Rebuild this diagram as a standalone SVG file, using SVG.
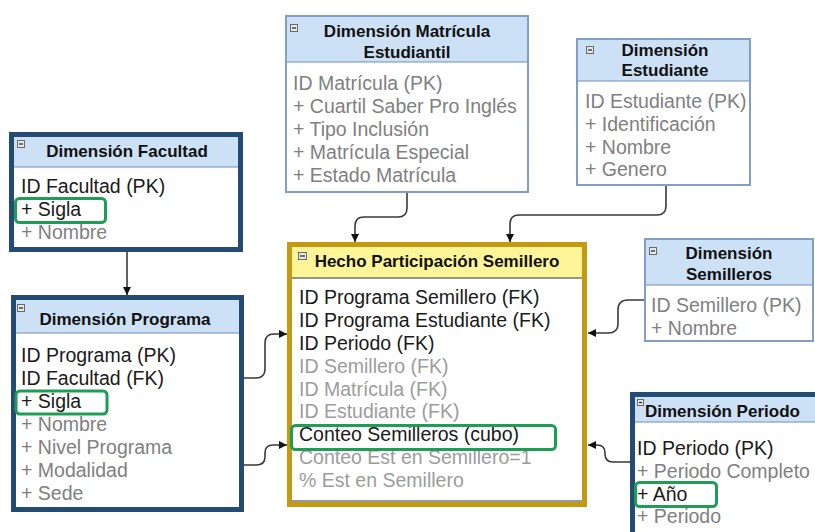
<svg xmlns="http://www.w3.org/2000/svg" width="815" height="532" viewBox="0 0 815 532">
<defs>
<style>
text{font-family:"Liberation Sans",Arial,sans-serif}
.t{font-size:17px;font-weight:bold;fill:#111}
.b{font-size:19.5px;fill:#1a1a1a}
.g{font-size:19.5px;fill:#808080}
.lg{font-size:19.5px;fill:#9c9c9c}
.dark{fill:#ffffff;stroke:#244b74;stroke-width:5}
.thin{fill:#ffffff;stroke:#7f9fca;stroke-width:2}
.hdr{fill:#cde1f6}
.sep{stroke:#6f8fb8;stroke-width:1.2}
.grn{fill:none;stroke:#1f9d55;stroke-width:3}
.ic{fill:#e6e6e6;stroke:#6a6a6a;stroke-width:1}
.icl{stroke:#222;stroke-width:1.2}
.con{fill:none;stroke:#3a3a3a;stroke-width:1.6}
</style>
<marker id="arr" viewBox="0 0 8 8" refX="8" refY="4" markerWidth="8" markerHeight="8" markerUnits="userSpaceOnUse" orient="auto">
<path d="M0,0 L8,4 L0,8 z" fill="#111"/>
</marker>
</defs>
<rect width="815" height="532" fill="#ffffff"/>

<g id="connectors">
<path class="con" d="M127,252 V295" marker-end="url(#arr)"/>
<path class="con" d="M244,378 H256 Q265,378 265,369 V343 Q265,334 274,334 H287" marker-end="url(#arr)"/>
<path class="con" d="M244,465 H256 Q265,465 265,457 V453 Q265,445 273,445 H287" marker-end="url(#arr)"/>
<path class="con" d="M407,193 V208 Q407,217 398,217 H364 Q355,217 355,226 V242" marker-end="url(#arr)"/>
<path class="con" d="M666,186 V206 Q666,215 657,215 H519 Q510,215 510,224 V242" marker-end="url(#arr)"/>
<path class="con" d="M644,300 H628 Q618,300 618,310 V324 Q618,333 608,333 H588" marker-end="url(#arr)"/>
<path class="con" d="M630,462 H613 Q605,462 605,454 V453 Q605,445 597,445 H588" marker-end="url(#arr)"/>
</g>

<g id="dim-facultad">
<rect class="dark" x="11.5" y="134.5" width="229" height="115"/>
<rect class="hdr" x="14" y="137" width="224" height="30"/>
<line class="sep" x1="14" y1="167" x2="238" y2="167"/>
<rect class="ic" x="17.5" y="140.5" width="7" height="7"/><line class="icl" x1="19" y1="144" x2="23" y2="144"/>
<text class="t" x="127" y="157" text-anchor="middle">Dimensión Facultad</text>
<text class="b" x="21" y="193">ID Facultad (PK)</text>
<text class="b" x="21" y="216">+ Sigla</text>
<text class="g" x="21" y="239">+ Nombre</text>
<rect class="grn" x="15.5" y="198.5" width="90" height="24" rx="4"/>
</g>

<g id="dim-programa">
<rect class="dark" x="13.5" y="297.5" width="228" height="212"/>
<rect class="hdr" x="16" y="300" width="223" height="33"/>
<line class="sep" x1="16" y1="333" x2="239" y2="333"/>
<rect class="ic" x="17.5" y="304.5" width="7" height="7"/><line class="icl" x1="19" y1="308" x2="23" y2="308"/>
<text class="t" x="125" y="325" text-anchor="middle">Dimensión Programa</text>
<text class="b" x="21" y="362">ID Programa (PK)</text>
<text class="b" x="21" y="385">ID Facultad (FK)</text>
<text class="b" x="21" y="408">+ Sigla</text>
<text class="g" x="21" y="431">+ Nombre</text>
<text class="g" x="21" y="454">+ Nivel Programa</text>
<text class="g" x="21" y="477">+ Modalidad</text>
<text class="g" x="21" y="500">+ Sede</text>
<rect class="grn" x="16" y="391" width="91" height="23" rx="4"/>
</g>

<g id="dim-matricula">
<rect class="thin" x="286" y="16" width="242" height="176"/>
<rect class="hdr" x="287" y="17" width="240" height="45"/>
<line class="sep" x1="287" y1="62" x2="527" y2="62"/>
<rect class="ic" x="290.5" y="24.5" width="7" height="7"/><line class="icl" x1="292" y1="28" x2="296" y2="28"/>
<text class="t" x="407" y="37" text-anchor="middle">Dimensión Matrícula</text>
<text class="t" x="407" y="58" text-anchor="middle">Estudiantil</text>
<text class="g" x="293" y="90">ID Matrícula (PK)</text>
<text class="g" x="293" y="113">+ Cuartil Saber Pro Inglés</text>
<text class="g" x="293" y="136">+ Tipo Inclusión</text>
<text class="g" x="293" y="158.5">+ Matrícula Especial</text>
<text class="g" x="293" y="181.5">+ Estado Matrícula</text>
</g>

<g id="dim-estudiante">
<rect class="thin" x="577" y="39" width="173" height="146"/>
<rect class="hdr" x="578" y="40" width="171" height="41"/>
<line class="sep" x1="578" y1="81" x2="749" y2="81"/>
<rect class="ic" x="586.5" y="46.5" width="7" height="7"/><line class="icl" x1="588" y1="50" x2="592" y2="50"/>
<text class="t" x="665" y="56" text-anchor="middle">Dimensión</text>
<text class="t" x="665" y="76" text-anchor="middle">Estudiante</text>
<text class="g" x="585" y="108">ID Estudiante (PK)</text>
<text class="g" x="585" y="131">+ Identificación</text>
<text class="g" x="585" y="153.5">+ Nombre</text>
<text class="g" x="585" y="176">+ Genero</text>
</g>

<g id="dim-semilleros">
<rect class="thin" x="645" y="239" width="168" height="102"/>
<rect class="hdr" x="646" y="240" width="166" height="45"/>
<line class="sep" x1="646" y1="285" x2="812" y2="285"/>
<rect class="ic" x="649.5" y="247.5" width="7" height="7"/><line class="icl" x1="651" y1="251" x2="655" y2="251"/>
<text class="t" x="729" y="259" text-anchor="middle">Dimensión</text>
<text class="t" x="729" y="280" text-anchor="middle">Semilleros</text>
<text class="g" x="651" y="312">ID Semillero (PK)</text>
<text class="g" x="651" y="335">+ Nombre</text>
</g>

<g id="hecho-participacion">
<rect x="289.5" y="244.5" width="295" height="260" fill="#ffffff" stroke="#c29b12" stroke-width="5"/>
<rect x="292" y="247" width="290" height="31" fill="#fdf597"/>
<line x1="292" y1="278" x2="582" y2="278" stroke="#333" stroke-width="1.2"/>
<line x1="292" y1="501" x2="582" y2="501" stroke="#333" stroke-width="1.2"/>
<rect class="ic" x="298.5" y="252.5" width="8" height="7"/><line class="icl" x1="300" y1="256" x2="305" y2="256"/>
<text class="t" x="437" y="267" text-anchor="middle">Hecho Participación Semillero</text>
<text class="b" x="299" y="304">ID Programa Semillero (FK)</text>
<text class="b" x="299" y="327">ID Programa Estudiante (FK)</text>
<text class="b" x="299" y="349.5">ID Periodo (FK)</text>
<text class="lg" x="299" y="372.5">ID Semillero (FK)</text>
<text class="lg" x="299" y="395.5">ID Matrícula (FK)</text>
<text class="lg" x="299" y="418">ID Estudiante (FK)</text>
<text class="b" x="299" y="441">Conteo Semilleros (cubo)</text>
<text class="lg" x="299" y="464">Conteo Est en Semillero=1</text>
<text class="lg" x="299" y="487">% Est en Semillero</text>
<rect class="grn" x="291.5" y="425.5" width="264" height="24" rx="4"/>
</g>

<g id="dim-periodo">
<rect class="dark" x="632.5" y="394.5" width="200" height="160"/>
<rect class="hdr" x="635" y="397" width="185" height="25"/>
<line class="sep" x1="635" y1="422" x2="815" y2="422"/>
<text class="t" x="645" y="417">Dimensión Periodo</text>
<rect class="ic" x="637.5" y="399.5" width="6" height="6"/><line class="icl" x1="639" y1="402.5" x2="642" y2="402.5"/>
<text class="b" x="637" y="455">ID Periodo (PK)</text>
<text class="g" x="637" y="478">+ Periodo Completo</text>
<text class="b" x="637" y="500.5">+ Año</text>
<text class="g" x="637" y="523">+ Periodo</text>
<rect class="grn" x="635.5" y="482.5" width="81" height="24" rx="4"/>
</g>
</svg>
